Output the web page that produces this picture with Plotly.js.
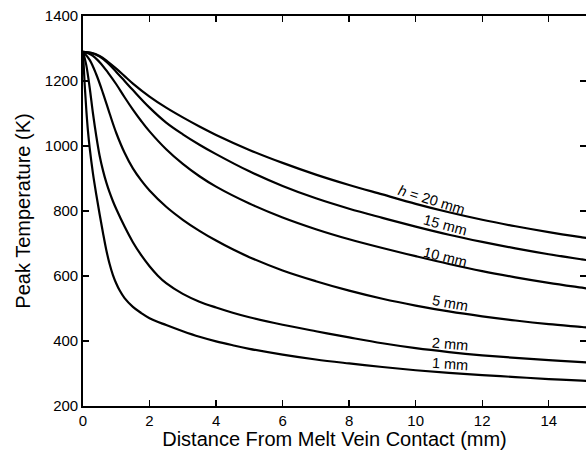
<!DOCTYPE html>
<html>
<head>
<meta charset="utf-8">
<script src="https://cdn.plot.ly/plotly-3.0.1.min.js"></script>
<style>html,body{margin:0;padding:0;background:#fff;}#chart{width:586px;height:450px;}</style>
</head>
<body>
<div id="chart"></div>
<script>
// Distance from melt vein contact (mm) and peak temperature (K) for each vein half-width h
const x1 = [0, 0.05, 0.1, 0.15, 0.2, 0.3, 0.4, 0.5, 0.6, 0.7, 0.8, 0.9, 1, 1.1, 1.25, 1.5, 1.75, 2, 2.5, 3, 3.5, 4, 4.5, 5, 6, 7, 8, 9, 10, 11, 12, 13, 14, 15, 15.2];
const t1 = [1290, 1190, 1110, 1045, 995, 915, 850, 790, 733, 680, 637, 603, 577, 556, 532, 505, 486, 470, 449, 430, 413, 399, 387, 376, 358, 343, 331, 320, 310, 302, 295, 289, 283, 278, 277];

const x2 = [0, 0.1, 0.2, 0.3, 0.4, 0.5, 0.6, 0.7, 0.8, 0.9, 1, 1.25, 1.5, 1.75, 2, 2.25, 2.5, 3, 3.5, 4, 4.5, 5, 6, 7, 8, 9, 10, 11, 12, 13, 14, 15, 15.2];
const t2 = [1290, 1248, 1180, 1100, 1030, 970, 925, 888, 857, 830, 806, 752, 704, 664, 630, 601, 578, 545, 521, 503, 487, 473, 450, 430, 411, 393, 378, 366, 356, 348, 341, 335, 334];

const x5 = [0, 0.2, 0.4, 0.6, 0.8, 1, 1.25, 1.5, 1.75, 2, 2.5, 3, 3.5, 4, 4.5, 5, 6, 7, 8, 9, 10, 11, 12, 13, 14, 15, 15.2];
const t5 = [1290, 1265, 1220, 1163, 1100, 1040, 979, 931, 894, 863, 813, 773, 739, 709, 682, 658, 617, 584, 555, 530, 509, 491, 476, 463, 452, 443, 441];

const x10 = [0, 0.25, 0.5, 0.75, 1, 1.25, 1.5, 1.75, 2, 2.5, 3, 3.5, 4, 5, 6, 7, 8, 9, 10, 11, 12, 13, 14, 15, 15.2];
const t10 = [1290, 1281, 1258, 1226, 1190, 1150, 1112, 1077, 1045, 990, 945, 907, 875, 823, 780, 744, 713, 686, 661, 637, 615, 596, 579, 564, 561];

const x15 = [0, 0.25, 0.5, 0.75, 1, 1.25, 1.5, 2, 2.5, 3, 3.5, 4, 5, 6, 7, 8, 9, 10, 11, 12, 13, 14, 15, 15.2];
const t15 = [1290, 1286, 1275, 1255, 1228, 1200, 1172, 1118, 1072, 1036, 1004, 975, 922, 877, 839, 807, 779, 752, 727, 705, 685, 667, 651, 648];

const x20 = [0, 0.25, 0.5, 0.75, 1, 1.25, 1.5, 2, 2.5, 3, 3.5, 4, 5, 6, 7, 8, 9, 10, 11, 12, 13, 14, 15, 15.2];
const t20 = [1290, 1287, 1277, 1259, 1238, 1215, 1192, 1152, 1118, 1088, 1060, 1034, 988, 948, 912, 880, 851, 822, 796, 773, 753, 735, 719, 716];

const seriesNames = ["1 mm", "2 mm", "5 mm", "10 mm", "15 mm", "20 mm"];
const curveLabels = ["1 mm", "2 mm", "5 mm", "10 mm", "15 mm", "<i>h</i> = 20 mm"];
const xTicks = [0, 2, 4, 6, 8, 10, 12, 14];
const yTicks = [200, 400, 600, 800, 1000, 1200, 1400];

const xs = [x1, x2, x5, x10, x15, x20];
const ts = [t1, t2, t5, t10, t15, t20];

const FONT = "Liberation Sans, Arial, Helvetica, sans-serif";

const traces = xs.map((x, i) => ({
  x: x, y: ts[i], name: seriesNames[i], type: "scatter", mode: "lines",
  line: {color: "#000", width: 2.2, shape: "spline", smoothing: 1},
  hoverinfo: "skip"
}));

// label placement (data coords) and rotation
const labelPos = [
  {x: 11.02, y: 330, a: 4},
  {x: 11.02, y: 392, a: 5},
  {x: 11.02, y: 517, a: 10},
  {x: 10.89, y: 658, a: 14},
  {x: 10.89, y: 756, a: 15},
  {x: 10.49, y: 833, a: 17}
];
const annotations = curveLabels.map((t, i) => ({
  x: labelPos[i].x, y: labelPos[i].y, xref: "x", yref: "y",
  text: t, showarrow: false, textangle: labelPos[i].a,
  font: {family: FONT, size: 14.5, color: "#000"}
}));

const axisCommon = {
  showgrid: false, zeroline: false, showline: true, linecolor: "#000", linewidth: 1.8,
  mirror: "ticks", ticks: "inside", ticklen: 6, tickwidth: 1.3, tickcolor: "#000",
  tickfont: {family: FONT, size: 15, color: "#000"}
};

const layout = {
  width: 586, height: 450,
  margin: {l: 83, r: 0, t: 16, b: 44, pad: 0},
  paper_bgcolor: "#fff", plot_bgcolor: "#fff",
  showlegend: false,
  xaxis: Object.assign({}, axisCommon, {
    range: [0, 15.12], tickvals: xTicks, ticktext: xTicks.map(String),
    title: {text: "Distance From Melt Vein Contact (mm)", font: {family: FONT, size: 20, color: "#000"}, standoff: 9}
  }),
  yaxis: Object.assign({}, axisCommon, {
    range: [200, 1400], tickvals: yTicks, ticktext: yTicks.map(String),
    title: {text: "Peak Temperature (K)", font: {family: FONT, size: 20, color: "#000"}, standoff: 9}
  }),
  annotations: annotations
};

Plotly.newPlot("chart", traces, layout, {staticPlot: true, displayModeBar: false});
</script>
</body>
</html>
